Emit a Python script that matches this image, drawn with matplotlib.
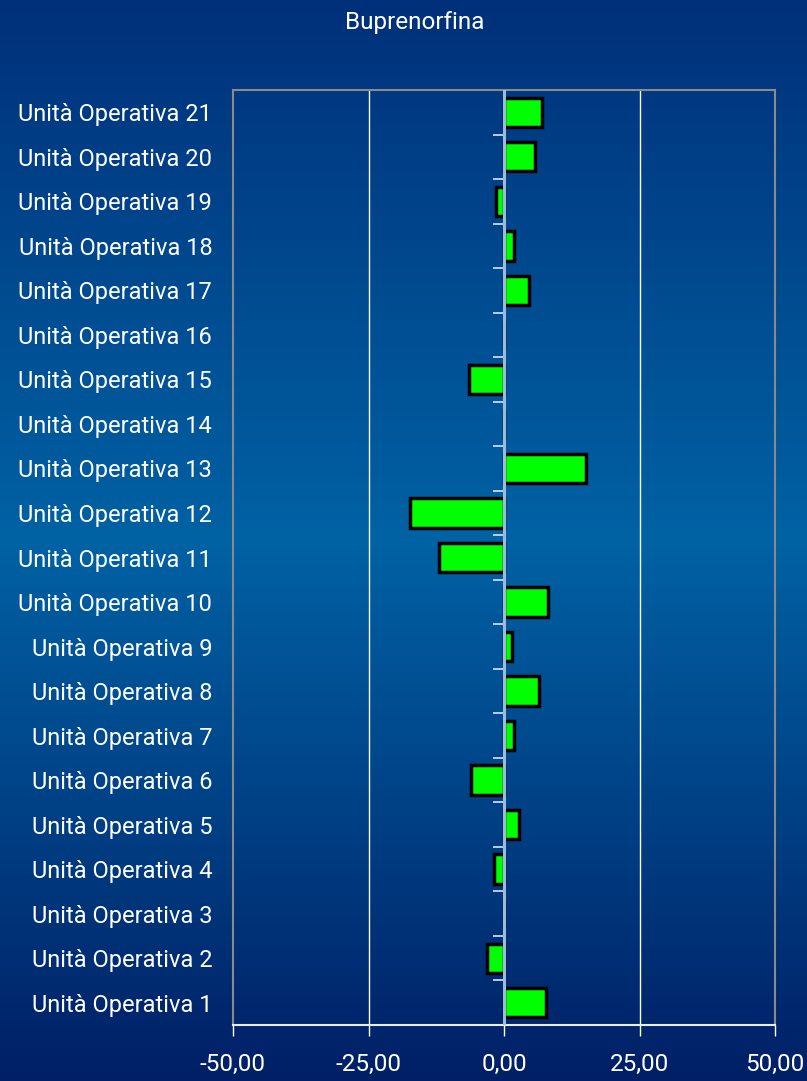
import numpy as np
import matplotlib.pyplot as plt
from matplotlib.colors import LinearSegmentedColormap

labels = ["Unità Operativa %d" % i for i in range(1, 22)]
values = [7.7, -3.2, 0.0, -1.8, 2.8, -6.0, 1.8, 6.4, 1.5, 8.1, -12.0,
          -17.3, 15.2, 0.0, -6.4, 0.0, 4.7, 1.8, -1.5, 5.7, 7.0]
xticks = [-50, -25, 0, 25, 50]
xlabels = ["-50,00", "-25,00", "0,00", "25,00", "50,00"]

fam = ["Roboto", "DejaVu Sans"]

fig = plt.figure(figsize=(8.07, 10.81), dpi=100)

# background gradient
bg = fig.add_axes([0, 0, 1, 1], zorder=-10)
cmap = LinearSegmentedColormap.from_list(
    "bg", [(0.0, "#00307a"), (0.5, "#0062a4"), (1.0, "#001f66")])
bg.imshow(np.linspace(0, 1, 256).reshape(-1, 1), aspect="auto", cmap=cmap,
          extent=[0, 1, 0, 1])
bg.axis("off")

W, H = 807, 1081
ax = fig.add_axes([233 / W, 1 - 1025 / H, (775 - 233) / W, (1025 - 90) / H])
ax.patch.set_alpha(0)

y = np.arange(len(labels))
ax.barh(y, values, height=0.66, color="#00ff00", edgecolor="black",
        linewidth=2.5, zorder=3)

ax.set_xlim(-50, 50)
ax.set_ylim(-0.5, len(labels) - 0.5)
ax.set_xticks(xticks)
ax.set_xticklabels(xlabels, family=fam, fontsize=17.5, color="white")
ax.set_yticks(y)
ax.set_yticklabels(labels, family=fam, fontsize=17, color="white")
ax.tick_params(axis="y", length=0, pad=15)
ax.tick_params(axis="x", length=8, color="white", pad=12, width=1)

for v in [-25, 25]:
    ax.axvline(v, color="white", lw=1, zorder=1)
ax.axvline(0, color="#9dbad6", lw=2.2, zorder=4)

for s in ["top", "left", "right"]:
    ax.spines[s].set_color("#8a8a8a")
    ax.spines[s].set_linewidth(1.5)
ax.spines["bottom"].set_color("#e8eef5")
ax.spines["bottom"].set_linewidth(1.5)

# category separator ticks on the zero line
sec = ax.secondary_yaxis(0.5)
sec.set_yticks(np.arange(len(labels) + 1) - 0.5)
sec.set_yticklabels([])
sec.tick_params(length=8, color="#d8e4f0", width=1.2, direction="in")
sec.spines["left"].set_visible(False)
sec.spines["right"].set_visible(False)

fig.text(415 / W, 1 - 22 / H, "Buprenorfina", ha="center", va="center",
         color="white", fontsize=17.5, family=fam)

fig.savefig("out.png", dpi=100)
